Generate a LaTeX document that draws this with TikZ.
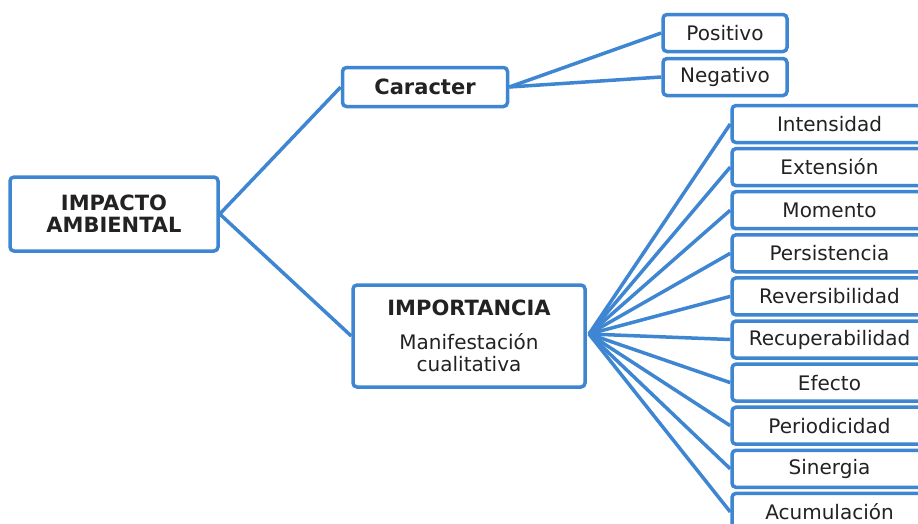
\documentclass[tikz,border=0pt]{standalone}
\usepackage{fontspec}
\setmainfont{DejaVu Sans}
\definecolor{lblue}{HTML}{3F86D2}
\definecolor{ink}{HTML}{222222}
\tikzset{
  box/.style={draw=lblue, line width=3.5pt, rounded corners=4pt, fill=white, text=ink, align=center, inner sep=0pt},
  reg/.style={font=\fontsize{20}{22}\selectfont},
  bld/.style={font=\bfseries\fontsize{21}{22}\selectfont},
  leaf/.style={box, reg, minimum width=195pt, minimum height=37pt},
  conn/.style={draw=lblue, line width=3.5pt},
}
\begin{document}
\begin{tikzpicture}[x=1pt,y=-1pt]
\clip (0,0) rectangle (918,523);
\fill[white] (0,0) rectangle (918,523);
\coordinate (hub) at (589,334);
\node[box, bld, minimum width=208pt, minimum height=74pt] (imp) at (114,214) {IMPACTO\\AMBIENTAL};
\node[box, bld, minimum width=165pt, minimum height=39pt] (car) at (425,87) {Caracter};
\node[box, reg, minimum width=124pt, minimum height=37pt] (pos) at (725,33) {Positivo};
\node[box, reg, minimum width=124pt, minimum height=37pt] (neg) at (725,77) {Negativo};
\node[box, reg, minimum width=232pt, minimum height=102pt] (imo) at (469,336) {{\bfseries\fontsize{21}{22}\selectfont IMPORTANCIA}\\[12pt]Manifestación\\cualitativa};
\foreach \t [count=\i from 0] in {Intensidad,Extensión,Momento,Persistencia,Reversibilidad,Recuperabilidad,Efecto,Periodicidad,Sinergia,Acumulación}{
  \node[leaf] (r\i) at (829.5,{124+43.1*\i}) {\t};
}
\draw[conn] (imp.east) -- (car.west);
\draw[conn] (imp.east) -- (imo.west);
\draw[conn] (car.east) -- (pos.west);
\draw[conn] (car.east) -- (neg.west);
\foreach \i in {0,...,9}{
  \draw[conn] (hub) -- (r\i.west);
}
\end{tikzpicture}
\end{document}
